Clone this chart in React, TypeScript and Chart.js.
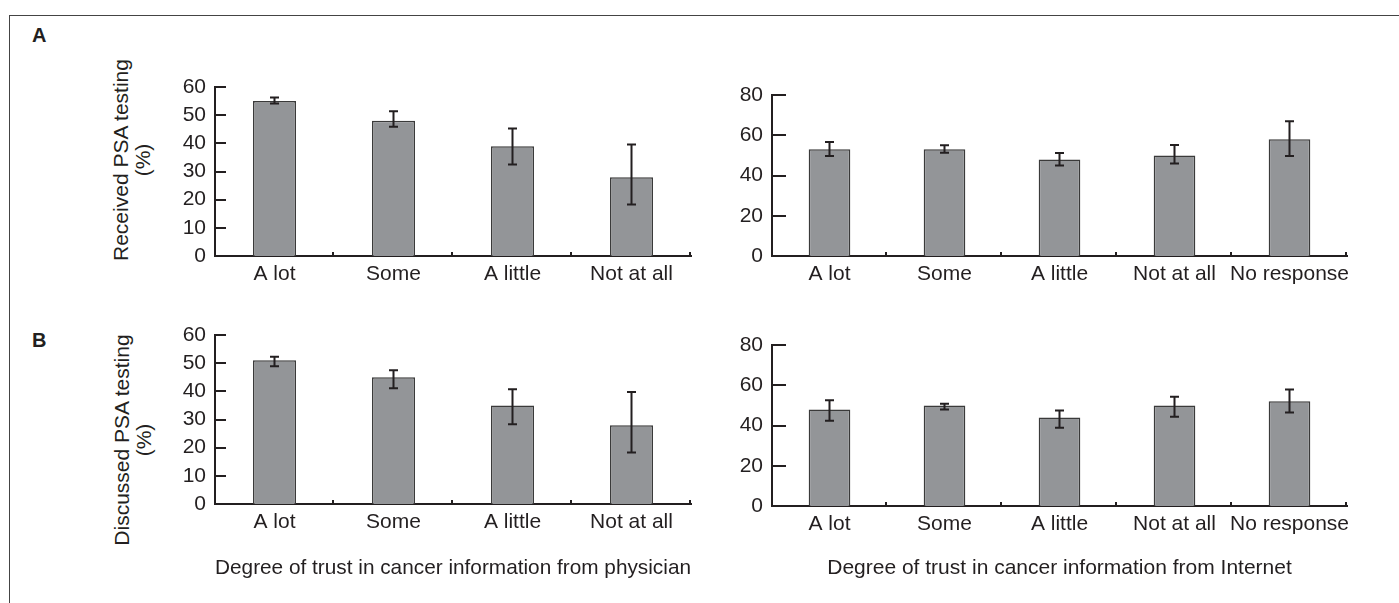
import React, { useEffect, useRef } from 'react';
import { Chart, registerables } from 'chart.js';

Chart.register(...registerables);

// ---------- data ----------
const physicianCategories = ['A lot', 'Some', 'A little', 'Not at all'];
const internetCategories = ['A lot', 'Some', 'A little', 'Not at all', 'No response'];

const receivedPhysician = [55, 48, 39, 28];
const receivedPhysicianLow = [54.1, 45.9, 32.5, 18.3];
const receivedPhysicianHigh = [56.3, 51.4, 45.3, 39.6];

const receivedInternet = [53, 53, 48, 50, 58];
const receivedInternetLow = [49.7, 51.3, 45.0, 46.0, 49.7];
const receivedInternetHigh = [56.6, 55.0, 51.2, 55.1, 66.9];

const discussedPhysician = [51, 45, 35, 28];
const discussedPhysicianLow = [48.9, 41.1, 28.3, 18.3];
const discussedPhysicianHigh = [52.3, 47.5, 40.7, 39.8];

const discussedInternet = [48, 50, 44, 50, 52];
const discussedInternetLow = [42.4, 48.0, 38.9, 44.4, 46.4];
const discussedInternetHigh = [52.5, 50.8, 47.5, 54.3, 57.9];

const physicianTitle = 'Degree of trust in cancer information from physician';
const internetTitle = 'Degree of trust in cancer information from Internet';
const receivedYTitle = ['Received PSA testing', '(%)'];
const discussedYTitle = ['Discussed PSA testing', '(%)'];

// ---------- styles ----------
const INK = '#231f20';
const BAR_FILL = '#939598';
const BAR_EDGE = '#3a3a3a';
const FONT = '"Liberation Sans", Arial, Helvetica, sans-serif';
const FONT_SIZE = 21;

const decorPlugin = {
  id: 'decor',
  afterDatasetsDraw(chart: any, _args: any, opts: any) {
    const { ctx, chartArea, scales } = chart;
    const x = scales.x;
    const y = scales.y;
    const n = chart.data.labels.length;
    ctx.save();
    ctx.strokeStyle = INK;
    ctx.lineWidth = 2;
    // inward y ticks
    y.ticks.forEach((t: any) => {
      const py = Math.round(y.getPixelForValue(t.value));
      ctx.beginPath();
      ctx.moveTo(chartArea.left, py);
      ctx.lineTo(chartArea.left + opts.tickLen, py);
      ctx.stroke();
    });
    // category boundary ticks on x axis
    for (let i = 1; i <= n; i++) {
      const px = Math.round(x.getPixelForValue(i - 0.5)) - 1;
      ctx.beginPath();
      ctx.moveTo(px, chartArea.bottom);
      ctx.lineTo(px, chartArea.bottom - 4);
      ctx.stroke();
    }
    // error bars
    const lows: number[] = opts.lows || [];
    const highs: number[] = opts.highs || [];
    const cap = 4.5;
    for (let i = 0; i < n; i++) {
      const px = x.getPixelForValue(i);
      const yl = y.getPixelForValue(lows[i]);
      const yh = y.getPixelForValue(highs[i]);
      ctx.beginPath();
      ctx.moveTo(px, yl);
      ctx.lineTo(px, yh);
      ctx.moveTo(px - cap, yh);
      ctx.lineTo(px + cap, yh);
      ctx.moveTo(px - cap, yl);
      ctx.lineTo(px + cap, yl);
      ctx.stroke();
    }
    ctx.restore();
  },
};

type Area = { left: number; top: number; right: number; bottom: number };

type PanelProps = {
  left: number;
  top: number;
  width: number;
  height: number;
  area: Area;
  labels: string[];
  values: number[];
  lows: number[];
  highs: number[];
  yMax: number;
  yStep: number;
  tickLen: number;
  xTitle?: string;
};

function Panel(p: PanelProps) {
  const ref = useRef<HTMLCanvasElement>(null);
  useEffect(() => {
    if (!ref.current) return;
    const yAxisWidth = p.area.left - p.left;
    const xAxisHeight = p.top + p.height - p.area.bottom;
    const font = { family: FONT, size: FONT_SIZE };
    const chart = new Chart(ref.current, {
      type: 'bar',
      data: {
        labels: p.labels,
        datasets: [
          {
            data: p.values,
            backgroundColor: BAR_FILL,
            borderColor: BAR_EDGE,
            borderWidth: 1.5,
            borderSkipped: 'bottom',
            barPercentage: 0.362,
            categoryPercentage: 1,
          },
        ],
      },
      options: {
        responsive: false,
        animation: false,
        devicePixelRatio: 1,
        layout: {
          padding: {
            left: 0,
            top: p.area.top - p.top,
            right: p.left + p.width - p.area.right,
            bottom: 0,
          },
        },
        plugins: {
          legend: { display: false },
          tooltip: { enabled: false },
          decor: { lows: p.lows, highs: p.highs, tickLen: p.tickLen },
        } as any,
        scales: {
          x: {
            grid: { display: false, drawTicks: false },
            border: { display: true, color: INK, width: 2 },
            ticks: { color: INK, font, padding: 6, maxRotation: 0, autoSkip: false },
            title: p.xTitle
              ? { display: true, text: p.xTitle, color: INK, font, padding: { top: 0, bottom: 22 } }
              : { display: false },
            afterFit: (s: any) => {
              s.height = xAxisHeight;
            },
          },
          y: {
            min: 0,
            max: p.yMax,
            grid: { display: false, drawTicks: false },
            border: { display: true, color: INK, width: 2 },
            ticks: { stepSize: p.yStep, color: INK, font, padding: 9, autoSkip: false },
            afterFit: (s: any) => {
              s.width = yAxisWidth;
            },
          },
        },
      } as any,
      plugins: [decorPlugin],
    });
    return () => chart.destroy();
  }, []);
  return (
    <canvas
      ref={ref}
      width={p.width}
      height={p.height}
      style={{ position: 'absolute', left: p.left, top: p.top, width: p.width, height: p.height }}
    />
  );
}

function YTitle({ lines, cx, cy }: { lines: string[]; cx: number; cy: number }) {
  const w = 260;
  const lh = 22;
  const h = lh * lines.length;
  return (
    <div
      style={{
        position: 'absolute',
        left: cx - w / 2,
        top: cy - h / 2,
        width: w,
        height: h,
        lineHeight: lh + 'px',
        fontFamily: FONT,
        fontSize: FONT_SIZE,
        color: INK,
        textAlign: 'center',
        transform: 'rotate(-90deg)',
        transformOrigin: 'center center',
        whiteSpace: 'nowrap',
      }}
    >
      {lines.map((l, i) => (
        <div key={i}>{l}</div>
      ))}
    </div>
  );
}

function PanelLetter({ text, left, top }: { text: string; left: number; top: number }) {
  return (
    <div
      style={{
        position: 'absolute',
        left,
        top,
        fontFamily: FONT,
        fontWeight: 'bold',
        fontSize: 20,
        lineHeight: '20px',
        color: INK,
      }}
    >
      {text}
    </div>
  );
}

export default function App() {
  return (
    <div style={{ position: 'relative', width: 1399, height: 603, overflow: 'hidden', background: '#fff' }}>
      <style>{'body{margin:0;}'}</style>
      <div
        style={{
          position: 'absolute',
          left: 9,
          top: 15,
          width: 1400,
          height: 600,
          borderTop: '1.5px solid #444',
          borderLeft: '1.5px solid #444',
        }}
      />
      <PanelLetter text="A" left={32} top={25} />
      <PanelLetter text="B" left={32} top={330} />
      <YTitle lines={receivedYTitle} cx={132} cy={160} />
      <YTitle lines={discussedYTitle} cx={132.5} cy={440} />
      <Panel
        left={160}
        top={60}
        width={560}
        height={240}
        area={{ left: 215, top: 87, right: 691, bottom: 256 }}
        labels={physicianCategories}
        values={receivedPhysician}
        lows={receivedPhysicianLow}
        highs={receivedPhysicianHigh}
        yMax={60}
        yStep={10}
        tickLen={11}
      />
      <Panel
        left={720}
        top={60}
        width={679}
        height={240}
        area={{ left: 772, top: 95, right: 1347, bottom: 256 }}
        labels={internetCategories}
        values={receivedInternet}
        lows={receivedInternetLow}
        highs={receivedInternetHigh}
        yMax={80}
        yStep={20}
        tickLen={14}
      />
      <Panel
        left={160}
        top={305}
        width={560}
        height={298}
        area={{ left: 215, top: 335, right: 691, bottom: 504 }}
        labels={physicianCategories}
        values={discussedPhysician}
        lows={discussedPhysicianLow}
        highs={discussedPhysicianHigh}
        yMax={60}
        yStep={10}
        tickLen={11}
        xTitle={physicianTitle}
      />
      <Panel
        left={720}
        top={305}
        width={679}
        height={298}
        area={{ left: 772, top: 345, right: 1347, bottom: 506 }}
        labels={internetCategories}
        values={discussedInternet}
        lows={discussedInternetLow}
        highs={discussedInternetHigh}
        yMax={80}
        yStep={20}
        tickLen={14}
        xTitle={internetTitle}
      />
    </div>
  );
}
